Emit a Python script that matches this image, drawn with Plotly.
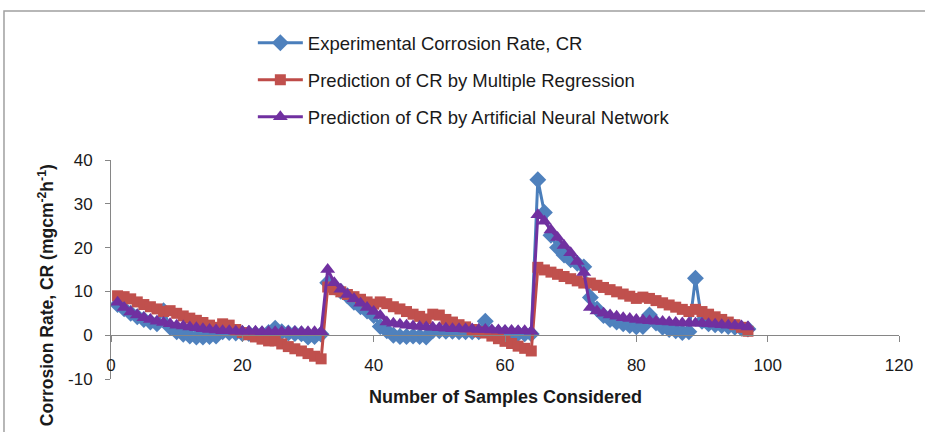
import plotly.graph_objects as go

samples = list(range(1, 98))

exp_cr = [
    7.0, 6.0, 5.0, 4.2, 3.6, 3.0, 2.6, 5.6, 1.8, 0.8, 0.2, -0.2, -0.4, -0.4, -0.3, -0.2,
    0.8, 0.6, 0.5, 0.4, 0.4, 0.3, 0.3, 0.6, 1.6, 0.8, 0.5, 0.4, 0.3, -0.4, -0.3, 0.2,
    12.0, 11.0, 10.0, 9.0, 7.5, 6.5, 5.5, 4.5, 2.0, 1.0, 0.0, -0.3, -0.3, -0.2, -0.3, -0.4,
    1.0, 1.0, 0.9, 0.9, 0.8, 0.8, 0.8, 0.8, 3.2, 0.6, 0.5, 0.5, 0.4, 0.4, 0.3, 0.3,
    35.5, 28.0, 22.8, 20.0, 18.3, 17.2, 16.4, 15.6, 8.6, 6.0, 4.5, 3.6, 3.0, 2.6, 2.2, 1.9,
    2.0, 4.6, 2.8, 1.8, 1.3, 1.0, 0.6, 0.8, 13.0, 3.2, 2.6, 2.4, 2.2, 2.0, 1.8, 1.6, 1.4,
]

mr_cr = [
    9.0, 8.8, 8.3, 7.6, 7.0, 6.5, 6.0, 5.4, 5.6, 5.0, 4.4, 3.9, 3.4, 2.9, 2.3, 1.8,
    2.6, 2.3, 1.3, 0.6, 0.1, -0.4, -0.9, -1.3, -1.3, -2.0, -2.6, -3.1, -3.6, -4.2, -4.8, -5.4,
    11.0, 10.4, 9.9, 9.3, 8.8, 8.2, 7.6, 7.1, 7.6, 7.2, 6.5, 6.0, 5.4, 4.8, 4.3, 3.7,
    4.8, 4.6, 3.6, 3.0, 2.4, 1.9, 1.3, 0.8, 0.5, -0.2, -0.8, -1.4, -1.9, -2.5, -3.0, -3.6,
    15.5, 14.9, 14.4, 13.9, 13.4, 12.9, 12.4, 11.9, 11.9, 11.4, 10.9, 10.4, 9.9, 9.4, 8.9, 8.4,
    8.7, 8.4, 7.9, 7.4, 6.9, 6.4, 5.9, 5.4, 5.9, 5.4, 4.8, 4.2, 3.6, 3.0, 2.4, 1.8, 0.9,
]

ann_cr = [
    7.5, 6.3, 5.3, 4.6, 4.0, 3.6, 3.2, 2.9, 2.6, 2.3, 2.1, 1.9, 1.7, 1.5, 1.3, 1.2,
    1.0, 1.0, 0.9, 0.9, 0.9, 0.9, 0.8, 0.8, 0.8, 0.8, 0.8, 0.8, 0.8, 0.8, 0.8, 0.8,
    15.0, 12.0, 10.5, 9.3, 8.3, 7.3, 6.3, 5.4, 4.5, 3.0, 2.7, 2.5, 2.3, 2.1, 2.0, 1.9,
    1.8, 1.7, 1.6, 1.5, 1.5, 1.4, 1.4, 1.3, 1.3, 1.2, 1.2, 1.1, 1.1, 1.0, 1.0, 0.9,
    27.5, 26.0, 24.0, 22.3, 20.5, 18.8, 16.8, 14.3, 6.3, 5.5, 5.0, 4.6, 4.3, 4.0, 3.8, 3.6,
    3.4, 3.3, 3.2, 3.1, 3.0, 2.9, 2.8, 2.8, 2.7, 2.7, 2.6, 2.5, 2.4, 2.3, 2.2, 2.1, 1.9,
]

y_ticks = [-10, 0, 10, 20, 30, 40]
y_tick_text = ["-10", "0", "10", "20", "30", "40"]

names = [
    "Experimental Corrosion Rate, CR",
    "Prediction of CR by Multiple Regression",
    "Prediction of CR by Artificial Neural Network",
]

FONT = "Liberation Sans, Arial, sans-serif"
TXT = "#1a1a1a"

fig = go.Figure()
fig.add_trace(go.Scatter(
    x=samples, y=exp_cr, name=names[0], mode="lines+markers", legendgroup="a",
    line=dict(color="#4A7EBB", width=3),
    marker=dict(symbol="diamond", size=13, color="#4F81BD"),
))
fig.add_trace(go.Scatter(
    x=samples, y=mr_cr, name=names[1], mode="lines+markers", legendgroup="b",
    line=dict(color="#BE4B48", width=3),
    marker=dict(symbol="square", size=11, color="#C0504D"),
))
fig.add_trace(go.Scatter(
    x=samples, y=ann_cr, name=names[2], mode="lines+markers", legendgroup="c",
    line=dict(color="#7030A0", width=3),
    marker=dict(symbol="triangle-up", size=13, color="#7030A0"),
))

fig.update_layout(
    width=925, height=432,
    margin=dict(l=111, r=26, t=160, b=53),
    paper_bgcolor="white", plot_bgcolor="white",
    font=dict(family=FONT, size=17, color=TXT),
    showlegend=True,
    legend=dict(
        x=0.18, y=1.62, xanchor="left", yanchor="top",
        font=dict(size=18.5, family=FONT, color=TXT),
        tracegroupgap=10, itemwidth=45, bgcolor="rgba(0,0,0,0)",
    ),
    xaxis=dict(
        range=[0, 120], dtick=20, anchor="free", position=0.2,
        showline=True, linecolor="#868686", linewidth=1,
        ticks="outside", ticklen=6, tickcolor="#868686",
        showgrid=False, zeroline=False, ticklabelstandoff=8,
        tickfont=dict(size=17),
    ),
    yaxis=dict(
        range=[-10, 40], tickvals=y_ticks, ticktext=y_tick_text,
        showline=True, linecolor="#868686", linewidth=1,
        ticks="outside", ticklen=5, tickcolor="#868686",
        showgrid=False, zeroline=False, ticklabelstandoff=9,
        tickfont=dict(size=17),
    ),
    shapes=[dict(
        type="rect", xref="paper", yref="paper",
        x0=-0.1358, y0=-0.6, x1=1.2, y1=1.680,
        line=dict(color="#A0A0A0", width=1.5), layer="above",
    )],
    annotations=[
        dict(text="<b>Number of Samples Considered</b>", xref="paper", yref="paper",
             x=0.5, y=-0.082, xanchor="center", yanchor="middle", showarrow=False,
             font=dict(size=18, family=FONT, color=TXT)),
        dict(text="<b>Corrosion Rate, CR (mgcm<sup>-2</sup>h<sup>-1</sup>)</b>",
             xref="paper", yref="paper", x=-0.0825, y=0.99, textangle=-90,
             xanchor="center", yanchor="top", showarrow=False,
             font=dict(size=17.5, family=FONT, color=TXT)),
    ],
)

fig.write_html("out.html")
